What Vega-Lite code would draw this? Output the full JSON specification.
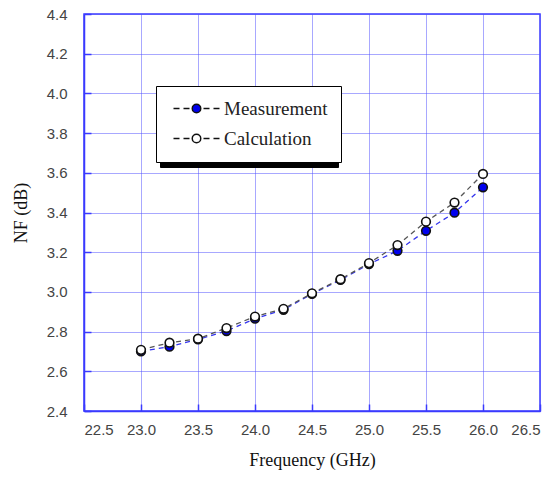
{
  "$schema": "https://vega.github.io/schema/vega-lite/v6.json",
  "width": 456,
  "height": 397,
  "autosize": {"type": "none"},
  "padding": {"left": 84, "top": 14, "right": 17, "bottom": 67},
  "background": "white",
  "config": {
    "view": {"stroke": "#3a3aff", "strokeWidth": 1.5},
    "axis": {
      "domainColor": "#3a3aff",
      "domainWidth": 1.5,
      "gridColor": "#5050ff",
      "gridDash": [1, 1],
      "gridWidth": 1,
      "tickColor": "#3a3aff",
      "tickSize": -7,
      "tickWidth": 1.5,
      "labelFont": "Liberation Sans",
      "labelFontSize": 15,
      "labelColor": "#444444",
      "titleFont": "Liberation Serif",
      "titleFontSize": 18,
      "titleFontWeight": "normal",
      "titleColor": "#111111"
    }
  },
  "data": {
    "values": [
      {"Frequency": 23.0, "NF": 2.70, "Series": "Measurement"},
      {"Frequency": 23.25, "NF": 2.724, "Series": "Measurement"},
      {"Frequency": 23.5, "NF": 2.761, "Series": "Measurement"},
      {"Frequency": 23.75, "NF": 2.803, "Series": "Measurement"},
      {"Frequency": 24.0, "NF": 2.865, "Series": "Measurement"},
      {"Frequency": 24.25, "NF": 2.91, "Series": "Measurement"},
      {"Frequency": 24.5, "NF": 2.99, "Series": "Measurement"},
      {"Frequency": 24.75, "NF": 3.06, "Series": "Measurement"},
      {"Frequency": 25.0, "NF": 3.14, "Series": "Measurement"},
      {"Frequency": 25.25, "NF": 3.207, "Series": "Measurement"},
      {"Frequency": 25.5, "NF": 3.308, "Series": "Measurement"},
      {"Frequency": 25.75, "NF": 3.399, "Series": "Measurement"},
      {"Frequency": 26.0, "NF": 3.527, "Series": "Measurement"},
      {"Frequency": 23.0, "NF": 2.708, "Series": "Calculation"},
      {"Frequency": 23.25, "NF": 2.744, "Series": "Calculation"},
      {"Frequency": 23.5, "NF": 2.764, "Series": "Calculation"},
      {"Frequency": 23.75, "NF": 2.818, "Series": "Calculation"},
      {"Frequency": 24.0, "NF": 2.876, "Series": "Calculation"},
      {"Frequency": 24.25, "NF": 2.915, "Series": "Calculation"},
      {"Frequency": 24.5, "NF": 2.993, "Series": "Calculation"},
      {"Frequency": 24.75, "NF": 3.064, "Series": "Calculation"},
      {"Frequency": 25.0, "NF": 3.145, "Series": "Calculation"},
      {"Frequency": 25.25, "NF": 3.236, "Series": "Calculation"},
      {"Frequency": 25.5, "NF": 3.354, "Series": "Calculation"},
      {"Frequency": 25.75, "NF": 3.45, "Series": "Calculation"},
      {"Frequency": 26.0, "NF": 3.594, "Series": "Calculation"}
    ]
  },
  "encoding": {
    "x": {
      "field": "Frequency",
      "type": "quantitative",
      "scale": {"domain": [22.5, 26.5], "nice": false},
      "axis": {
        "values": [22.5, 23.0, 23.5, 24.0, 24.5, 25.0, 25.5, 26.0, 26.5],
        "format": ".1f",
        "title": "Frequency (GHz)",
        "labelPadding": 18,
        "titlePadding": 14
      }
    },
    "y": {
      "field": "NF",
      "type": "quantitative",
      "scale": {"domain": [2.4, 4.4], "nice": false, "zero": false},
      "axis": {
        "values": [2.4, 2.6, 2.8, 3.0, 3.2, 3.4, 3.6, 3.8, 4.0, 4.2, 4.4],
        "format": ".1f",
        "title": "NF (dB)",
        "labelPadding": 24,
        "titlePadding": 16
      }
    }
  },
  "layer": [
    {
      "mark": {"type": "line", "strokeDash": [5, 4], "strokeWidth": 1.3},
      "encoding": {
        "color": {
          "field": "Series",
          "type": "nominal",
          "scale": {"domain": ["Measurement", "Calculation"], "range": ["#3535ee", "#555555"]},
          "legend": {
            "title": null,
            "orient": "none",
            "legendX": 76,
            "legendY": 77,
            "strokeColor": "#000000",
            "fillColor": "#000000",
            "padding": 13,
            "rowPadding": 10,
            "symbolType": "M-7.95,-1H7.95V1H-7.95Z",
            "symbolSize": 361,
            "symbolOffset": 66,
            "symbolOpacity": 0,
            "symbolStrokeWidth": 0,
            "labelOffset": 0,
            "labelExpr": "''",
            "labelFontSize": 19
          }
        },
        "order": {"field": "Frequency", "type": "quantitative"}
      }
    },
    {
      "mark": {"type": "point", "filled": true, "size": 75, "strokeWidth": 1.6, "opacity": 1, "stroke": "#111111"},
      "encoding": {
        "fill": {
          "field": "Series",
          "type": "nominal",
          "scale": {"domain": ["Measurement", "Calculation"], "range": ["#0000ee", "#ffffff"]},
          "legend": {
            "title": null,
            "orient": "top-left",
            "offset": 72,
            "strokeColor": "#000000",
            "fillColor": "#ffffff",
            "padding": 13,
            "rowPadding": 10,
            "symbolType": "M-4.6,0H-3.4M-2.6,0H-1.4M1.4,0H2.6M3.4,0H4.6M-0.85,0A0.85,0.85 0 1,1 0.85,0A0.85,0.85 0 1,1 -0.85,0Z",
            "symbolSize": 100,
            "symbolOffset": 18,
            "symbolStrokeWidth": 1.5,
            "labelOffset": 18,
            "labelFont": "Liberation Serif",
            "labelFontSize": 19,
            "labelColor": "#222222",
            "encode": {
              "symbols": {
                "enter": {
                  "stroke": {"signal": "datum.value === 'Measurement' ? '#2222ee' : '#333333'"}
                },
                "update": {
                  "stroke": {"signal": "datum.value === 'Measurement' ? '#2222ee' : '#333333'"}
                }
              }
            }
          }
        }
      }
    }
  ]
}
